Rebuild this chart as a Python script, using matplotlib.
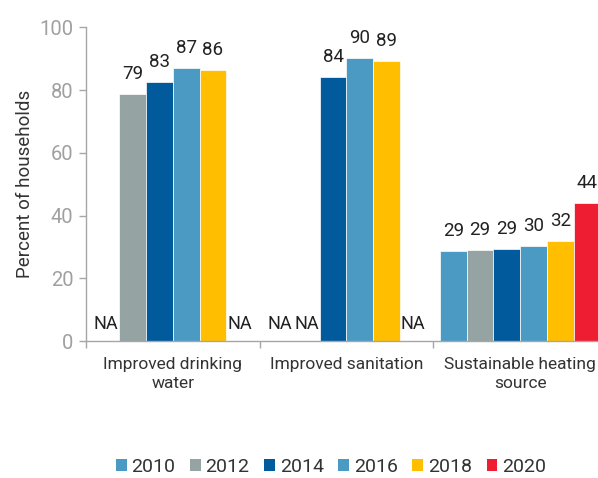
import matplotlib
matplotlib.use("Agg")
import matplotlib.pyplot as plt
from matplotlib.patches import Patch
import numpy as np

plt.rcParams['font.family'] = ['Roboto', 'DejaVu Sans']

categories = ["Improved drinking\nwater", "Improved sanitation", "Sustainable heating\nsource"]
years = ["2010", "2012", "2014", "2016", "2018", "2020"]
# None = not available (NA)
values = {
    "2010": [None, None, 28.6],
    "2012": [78.6, None, 29.2],
    "2014": [82.6, 84.1, 29.3],
    "2016": [86.9, 90.1, 30.3],
    "2018": [86.4, 89.3, 31.9],
    "2020": [None, None, 44.0],
}
colors = ["#4A9AC4", "#95A3A3", "#005A9C", "#4A9AC4", "#FFBE00", "#EE1D31"]

fig = plt.figure(figsize=(5.98, 4.78), dpi=100)
ax = fig.add_axes([86 / 598, 1 - 341.3 / 478, 521 / 598, 314 / 478])

x = np.arange(len(categories))
width = 0.154
for i, yr in enumerate(years):
    xs = x + (i - 2.5) * width
    for xi, v in zip(xs, values[yr]):
        if v is None:
            ax.text(xi, 2.5, "NA", ha="center", va="bottom", fontsize=13,
                    color="#222222")
            continue
        ax.bar(xi, v, width, color=colors[i], edgecolor="white", linewidth=0.5)
        ax.annotate(f"{v:.0f}", (xi, v), xytext=(0, 8), textcoords="offset points",
                    ha="center", va="bottom", fontsize=13.5, color="#222222")

ax.set_xlim(-0.5, 2.5)
ax.set_ylim(0, 100)
ax.set_yticks(range(0, 101, 20))
ax.set_xticks(x)
ax.set_xticklabels(categories, fontsize=12.5, color="#333333", linespacing=1.4)
ax.set_xticks([-0.5, 0.5, 1.5, 2.5], minor=True)
ax.tick_params(axis="x", which="major", length=0, pad=11)
ax.tick_params(axis="x", which="minor", length=5, color="#A6A6A6", width=1)
ax.tick_params(axis="y", length=5, color="#A6A6A6", width=1, labelsize=14.5,
               labelcolor="#A0A0A0", pad=4)
for s in ["top", "right"]:
    ax.spines[s].set_visible(False)
for s in ["left", "bottom"]:
    ax.spines[s].set_color("#A6A6A6")
    ax.spines[s].set_linewidth(1)
ax.set_ylabel("Percent of households", fontsize=13.5, color="#333333", labelpad=4)

handles = [Patch(facecolor=c, label=y) for c, y in zip(colors, years)]
fig.legend(handles=handles, loc="center", bbox_to_anchor=(331 / 598, 1 - 467 / 478),
           ncol=6, frameon=False, fontsize=14, handlelength=0.55, handleheight=0.55,
           handletextpad=0.25, columnspacing=0.75, labelcolor="#333333")

fig.savefig("out.png", dpi=100)
